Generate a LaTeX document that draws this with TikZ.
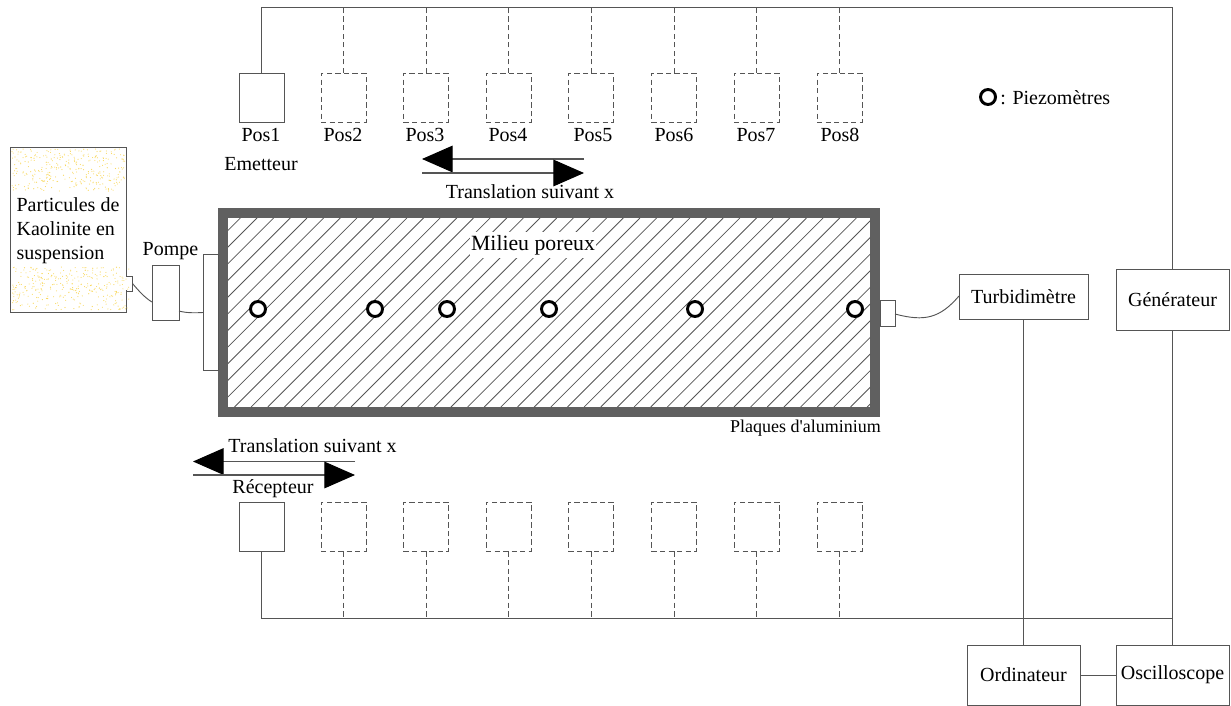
\documentclass[tikz,border=0pt]{standalone}
\usepackage{fontspec}
\setmainfont{Liberation Serif}
\usetikzlibrary{arrows.meta, calc}
\newcommand{\upx}{0.75pt}
\definecolor{cWire}{RGB}{85,85,85}
\definecolor{cPlate}{RGB}{96,96,96}
\definecolor{cGrain}{RGB}{248,215,90}
\tikzset{
	blk/.style    ={rectangle, draw=cWire, line width=0.7pt, fill=white, inner sep=0pt, align=center},
	posbox/.style ={blk, minimum width=45*\upx, minimum height=49*\upx},
	ghost/.style  ={posbox, dashed, dash pattern=on 4pt off 2.4pt},
	sig/.style    ={draw=cWire, line width=0.7pt},
	ghostsig/.style={sig, dash pattern=on 4pt off 2.4pt},
	move/.style   ={draw=cWire, line width=0.8pt, -{Triangle[length=23pt, width=20pt, color=black, fill=black]}},
	piezo/.style  ={circle, draw=black, line width=2.2pt, fill=white, minimum size=15*\upx, inner sep=0pt},
	lbl/.style    ={inner sep=0pt},
}
\begin{document}
\begin{tikzpicture}[x=\upx, y=-\upx, font=\fontsize{15}{18}\selectfont]
	\useasboundingbox (0,0) rectangle (1231,706);
	% porous medium
	\node[rectangle, draw=cPlate, line width=7.5pt, inner sep=0pt, minimum width=652*\upx, minimum height=199*\upx] (plate) at (549,312.5) {};
	\begin{scope}
		\clip (228,218) rectangle (870,407);
		\foreach \h in {34.7,51.35,...,880} {
			\draw[cWire, line width=0.6pt] (\h,407) -- (\h+189,218);
		}
	\end{scope}
	\node[lbl, fill=white, inner xsep=1pt, inner ysep=2pt, font=\fontsize{16.3}{18}\selectfont] (milieu) at (533,245) {Milieu poreux};
	\foreach \n/\xx in {1/258,2/375,3/447,4/549,5/695,6/855} {
		\node[piezo] (piezo\n) at (\xx,309) {};
	}
	\node[piezo] (piezoleg) at (988,97) {};
	\node[lbl, anchor=west] (piezotxt) at (1000,98) {: Piezomètres};
	\node[lbl, font=\fontsize{13.5}{18}\selectfont] (plaques) at (805.5,428) {Plaques d\textquotesingle aluminium};

	% tank and pump
	\node[blk, draw=cWire, minimum width=116*\upx, minimum height=165*\upx, fill=none] (tank) at (68,229.5) {};
	\node[lbl, align=left] (tanktxt) at (68,231) {Particules de\\Kaolinite en\\suspension};
	\node[blk, minimum width=6*\upx, minimum height=15*\upx] (nozzle) at (129,283.5) {};
	\draw[white, line width=1pt] (126,277) -- (126,290);
	\pgfmathsetseed{11}
	\foreach \i in {1,...,320} {
		\pgfmathsetmacro{\dx}{12+rnd*113}
		\pgfmathsetmacro{\dy}{149+rnd*42}
		\fill[cGrain] (\dx,\dy) circle (0.55);
		\pgfmathsetmacro{\ex}{12+rnd*118}
		\pgfmathsetmacro{\ey}{267+rnd*43}
		\fill[cGrain] (\ex,\ey) circle (0.55);
	}
	\node[blk, minimum width=27*\upx, minimum height=55*\upx] (pump) at (165.5,292.5) {};
	\node[lbl] (pompe) at (170.5,251) {Pompe};
	\node[blk, minimum width=15*\upx, minimum height=116*\upx] (inlet) at (210.5,312) {};
	\node[blk, minimum width=15*\upx, minimum height=26*\upx] (outlet) at (887.5,313) {};
	\coordinate (pumpin) at (152,302);
	\coordinate (pumpout) at (179,311);
	\coordinate (inletin) at (203,312.5);
	\coordinate (outletout) at (895,314);
	\coordinate (turbin) at (959,296);
	\draw[sig] (nozzle.east) .. controls (138,290) and (145,298) .. (pumpin);
	\draw[sig] (pumpout) .. controls (186,313) and (195,313) .. (inletin);
	\draw[sig] (outletout) .. controls (925,322) and (940,318) .. (turbin);

	% emitter and receiver positions
	\node[posbox] (pos1) at (261.5,98) {};
	\node[posbox] (rec1) at (261.5,526.5) {};
	\foreach \n/\xx in {2/343.5,3/426,4/508.5,5/591,6/674,7/756.5,8/839.5} {
		\node[ghost] (pos\n) at (\xx,98) {};
		\node[ghost] (rec\n) at (\xx,526.5) {};
	}
	\foreach \n/\xx in {1/261,2/343,3/425,4/508,5/593,6/674,7/756,8/840} {
		\node[lbl] (poslbl\n) at (\xx,135) {Pos\n};
	}
	\node[lbl] (emetteur) at (261,164) {Emetteur};
	\node[lbl] (recepteur) at (273,489) {Récepteur};

	% instruments
	\node[blk, minimum width=129*\upx, minimum height=45*\upx] (turb) at (1023.5,296.5) {Turbidimètre};
	\node[blk, minimum width=113*\upx, minimum height=61*\upx] (gen) at (1172.5,299.5) {Générateur};
	\node[blk, minimum width=113*\upx, minimum height=60*\upx] (ordi) at (1023.5,675) {Ordinateur};
	\node[blk, minimum width=113*\upx, minimum height=60*\upx] (osc) at (1172.5,675) {Oscilloscope};

	% wiring
	\coordinate (topleft) at (261.5,7);
	\coordinate (botleft) at (261.5,618.5);
	\coordinate (topright) at (gen.north |- topleft);
	\coordinate (botright) at (gen.north |- botleft);
	\draw[sig] (pos1.north) -- (topleft) -- (topright) -- (gen.north);
	\draw[sig] (rec1.south) -- (botleft) -- (botright);
	\foreach \n in {2,...,8} {
		\draw[ghostsig] (pos\n.north) -- (pos\n.north |- topleft);
		\draw[ghostsig] (rec\n.south) -- (rec\n.south |- botleft);
	}
	\draw[sig] (gen.south) -- (osc.north);
	\draw[sig] (turb.south) -- (turb.south |- ordi.north);
	\draw[sig] (ordi.east) -- (osc.west);

	% translation arrows
	\coordinate (upl) at (422,159);
	\coordinate (upr) at (584,159);
	\coordinate (uql) at (422,173);
	\coordinate (uqr) at (584,173);
	\draw[move] (upr) -- (upl);
	\draw[move] (uql) -- (uqr);
	\node[lbl] (transtop) at (530,192) {Translation suivant x};
	\coordinate (lpl) at (193,461.5);
	\coordinate (lpr) at (355,461.5);
	\coordinate (lql) at (193,475);
	\coordinate (lqr) at (355,475);
	\draw[move] (lpr) -- (lpl);
	\draw[move] (lql) -- (lqr);
	\node[lbl] (transbot) at (312.5,446) {Translation suivant x};
\end{tikzpicture}
\end{document}
